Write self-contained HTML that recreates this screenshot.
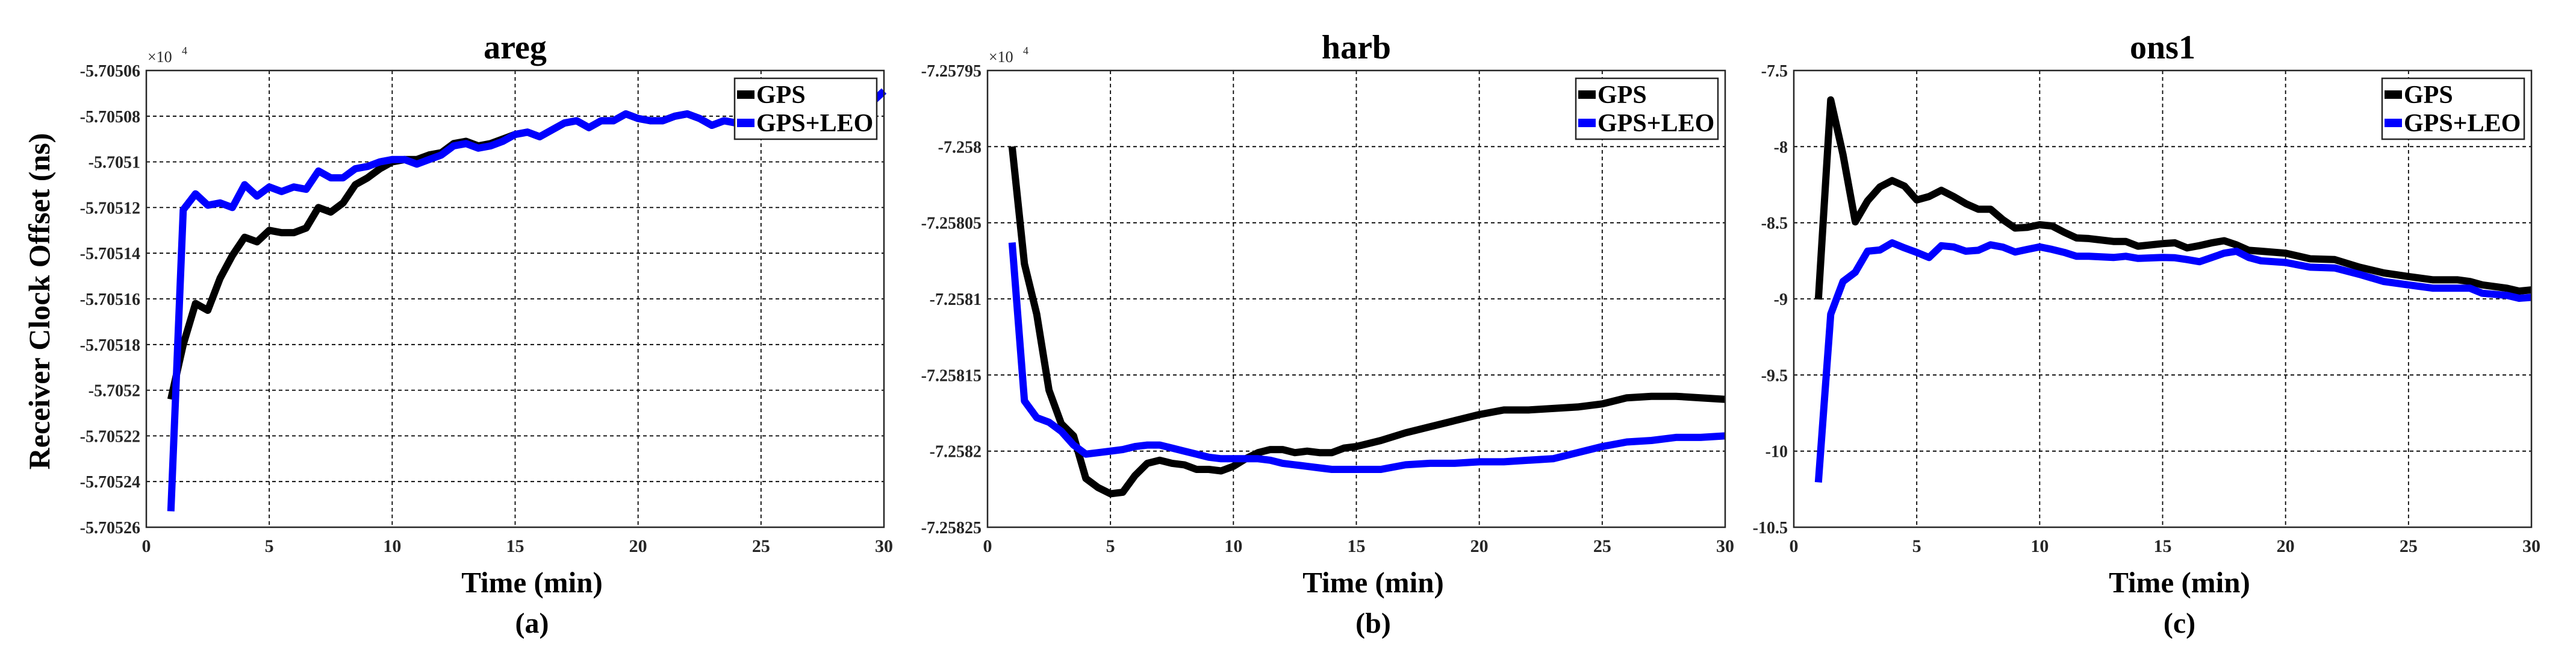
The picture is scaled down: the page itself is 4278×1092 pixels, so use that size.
<!DOCTYPE html>
<html><head><meta charset="utf-8">
<style>
html,body{margin:0;padding:0;background:#fff;}
svg{display:block;font-family:"Liberation Serif",serif;}
</style></head>
<body>
<svg id="fig" width="4278" height="1092" viewBox="0 0 4278 1092" xmlns="http://www.w3.org/2000/svg"></svg>
<script>
// ---- data ----
const timesA = [1,1.5,2,2.5,3,3.5,4,4.5,5,5.5,6,6.5,7,7.5,8,8.5,9,9.5,10,10.5,11,11.5,12,12.5,13,13.5,14,14.5,15,15.5,16,16.5,17,17.5,18,18.5,19,19.5,20,20.5,21,21.5,22,22.5,23,23.5,24,24.5,25,26,27,28,29,29.5,30];
const gpsA = [-5.705204,-5.70518,-5.705162,-5.705165,-5.705151,-5.705141,-5.705133,-5.705135,-5.70513,-5.705131,-5.705131,-5.705129,-5.70512,-5.705122,-5.705118,-5.70511,-5.705107,-5.705103,-5.7051,-5.705099,-5.705099,-5.705097,-5.705096,-5.705092,-5.705091,-5.705093,-5.705092,-5.70509,-5.705088,-5.705087,-5.705089,-5.705086,-5.705083,-5.705082,-5.705085,-5.705082,-5.705082,-5.705079,-5.705081,-5.705082,-5.705082,-5.70508,-5.705079,-5.705081,-5.705084,-5.705082,-5.705083,-5.70508,-5.70508,-5.705081,-5.70508,-5.705079,-5.705078,-5.705074,-5.705069];
const leoA = [-5.705253,-5.705121,-5.705114,-5.705119,-5.705118,-5.70512,-5.70511,-5.705115,-5.705111,-5.705113,-5.705111,-5.705112,-5.705104,-5.705107,-5.705107,-5.705103,-5.705102,-5.7051,-5.705099,-5.705099,-5.705101,-5.705099,-5.705097,-5.705093,-5.705092,-5.705094,-5.705093,-5.705091,-5.705088,-5.705087,-5.705089,-5.705086,-5.705083,-5.705082,-5.705085,-5.705082,-5.705082,-5.705079,-5.705081,-5.705082,-5.705082,-5.70508,-5.705079,-5.705081,-5.705084,-5.705082,-5.705083,-5.70508,-5.70508,-5.705081,-5.70508,-5.705079,-5.705078,-5.705074,-5.705069];
const timesB = [1,1.5,2,2.5,3,3.5,4,4.5,5,5.5,6,6.5,7,7.5,8,8.5,9,9.5,10,10.5,11,11.5,12,12.5,13,13.5,14,14.5,15,16,17,18,19,20,21,22,23,24,25,26,27,28,29,30];
const gpsB = [-7.258,-7.258077,-7.25811,-7.25816,-7.258182,-7.25819,-7.258218,-7.258224,-7.258228,-7.258227,-7.258216,-7.258208,-7.258206,-7.258208,-7.258209,-7.258212,-7.258212,-7.258213,-7.25821,-7.258205,-7.258201,-7.258199,-7.258199,-7.258201,-7.2582,-7.258201,-7.258201,-7.258198,-7.258197,-7.258193,-7.258188,-7.258184,-7.25818,-7.258176,-7.258173,-7.258173,-7.258172,-7.258171,-7.258169,-7.258165,-7.258164,-7.258164,-7.258165,-7.258166];
const leoB = [-7.258063,-7.258167,-7.258178,-7.258181,-7.258187,-7.258196,-7.258202,-7.258201,-7.2582,-7.258199,-7.258197,-7.258196,-7.258196,-7.258198,-7.2582,-7.258202,-7.258204,-7.258205,-7.258205,-7.258205,-7.258205,-7.258206,-7.258208,-7.258209,-7.25821,-7.258211,-7.258212,-7.258212,-7.258212,-7.258212,-7.258209,-7.258208,-7.258208,-7.258207,-7.258207,-7.258206,-7.258205,-7.258201,-7.258197,-7.258194,-7.258193,-7.258191,-7.258191,-7.25819];
const timesC = [1,1.5,2,2.5,3,3.5,4,4.5,5,5.5,6,6.5,7,7.5,8,8.5,9,9.5,10,10.5,11,11.5,12,13,13.5,14,15,15.5,16,16.5,17,17.5,18,18.5,19,20,21,22,23,24,25,26,27,27.5,28,29,29.5,30];
const gpsC = [-9.004,-7.693,-8.052,-8.494,-8.356,-8.265,-8.223,-8.259,-8.35,-8.328,-8.287,-8.328,-8.375,-8.411,-8.411,-8.48,-8.535,-8.53,-8.513,-8.521,-8.563,-8.6,-8.604,-8.623,-8.623,-8.654,-8.637,-8.632,-8.665,-8.65,-8.632,-8.618,-8.645,-8.681,-8.687,-8.7,-8.737,-8.742,-8.792,-8.83,-8.853,-8.875,-8.875,-8.886,-8.908,-8.93,-8.949,-8.941];
const leoC = [-10.205,-9.101,-8.886,-8.825,-8.687,-8.679,-8.632,-8.665,-8.695,-8.728,-8.651,-8.659,-8.687,-8.681,-8.645,-8.66,-8.692,-8.675,-8.659,-8.675,-8.695,-8.72,-8.72,-8.728,-8.72,-8.734,-8.728,-8.73,-8.742,-8.756,-8.728,-8.7,-8.687,-8.728,-8.75,-8.761,-8.792,-8.797,-8.839,-8.886,-8.908,-8.93,-8.93,-8.93,-8.963,-8.977,-8.996,-8.99];
const xTicks = [0,5,10,15,20,25,30];
const yTicksA = ["-5.70526","-5.70524","-5.70522","-5.7052","-5.70518","-5.70516","-5.70514","-5.70512","-5.7051","-5.70508","-5.70506"];
const yTicksB = ["-7.25825","-7.2582","-7.25815","-7.2581","-7.25805","-7.258","-7.25795"];
const yTicksC = ["-10.5","-10","-9.5","-9","-8.5","-8","-7.5"];
const titles = ["areg","harb","ons1"];
const subLabels = ["(a)","(b)","(c)"];

const NS = "http://www.w3.org/2000/svg";
const svg = document.getElementById("fig");
function mk(tag, attrs, parent){
  const e = document.createElementNS(NS, tag);
  for (const k in attrs) e.setAttribute(k, attrs[k]);
  (parent||svg).appendChild(e);
  return e;
}

const panels = [
  {left:243, times:timesA, gps:gpsA, leo:leoA, ticks:yTicksA, mult:true},
  {left:1640, times:timesB, gps:gpsB, leo:leoB, ticks:yTicksB, mult:true},
  {left:2979, times:timesC, gps:gpsC, leo:leoC, ticks:yTicksC, mult:false}
];
const TOP = 117, BOT = 875, W = 1225;

panels.forEach((p, i) => {
  const g = mk("g", {});
  
  
  const ymin = parseFloat(p.ticks[0]), ymax = parseFloat(p.ticks[p.ticks.length-1]);
  const xs = t => p.left + (t / 30) * W;
  const ys = v => BOT - (v - ymin) / (ymax - ymin) * (BOT - TOP);
  const clipId = "clip" + i;
  const cp = mk("clipPath", {id: clipId}, g);
  mk("rect", {x: p.left, y: TOP - 40, width: W + 12, height: BOT - TOP + 40}, cp);

  xTicks.forEach(t => {
    if (t > 0 && t < 30) {
      const l = mk("line", {x1: xs(t), x2: xs(t), y1: TOP, y2: BOT, stroke: "#000", "stroke-width": 1.8, "stroke-dasharray": "6,5"}, g);
      
      
    }
    const tx = mk("text", {x: xs(t), y: 916, "text-anchor": "middle", "font-size": 30, "font-weight": "bold", fill: "#262626"}, g);
    tx.textContent = t;
    
    
  });
  p.ticks.forEach((lab, k) => {
    const v = parseFloat(lab);
    const y = ys(v);
    if (k > 0 && k < p.ticks.length - 1) {
      const l = mk("line", {x1: p.left, x2: p.left + W, y1: y, y2: y, stroke: "#000", "stroke-width": 1.8, "stroke-dasharray": "6,5"}, g);
      
      
    }
    const tx = mk("text", {x: p.left - 10, y: y + 10, "text-anchor": "end", "font-size": 28, "font-weight": "bold", fill: "#262626"}, g);
    tx.textContent = lab;
    
    
  });

  const mkPath = (arr, color, name) => {
    let d = "";
    p.times.forEach((t, k) => { d += (k ? "L" : "M") + xs(t).toFixed(1) + "," + ys(arr[k]).toFixed(1); });
    const path = mk("path", {d: d, fill: "none", stroke: color, "stroke-width": 12, "stroke-linejoin": "round", "clip-path": "url(#" + clipId + ")"}, g);
    
    
  };
  mkPath(p.gps, "#000", "gps-line");
  mkPath(p.leo, "#0000ff", "gps-leo-line");

  const box = mk("rect", {x: p.left, y: TOP, width: W, height: BOT - TOP, fill: "none", stroke: "#262626", "stroke-width": 2.5}, g);
  
  

  const ti = mk("text", {x: p.left + W / 2, y: 97, "text-anchor": "middle", "font-size": 56, "font-weight": "bold"}, g);
  ti.textContent = titles[i];
  
  

  const xl = mk("text", {x: p.left + W / 2 + 28, y: 983, "text-anchor": "middle", "font-size": 49, "font-weight": "bold"}, g);
  xl.textContent = "Time (min)";
  
  

  const sl = mk("text", {x: p.left + W / 2 + 28, y: 1050, "text-anchor": "middle", "font-size": 48, "font-weight": "bold"}, g);
  sl.textContent = subLabels[i];
  
  

  if (p.mult) {
    const m = mk("text", {x: p.left + 2, y: 103, "font-size": 26, fill: "#262626"}, g);
    m.textContent = "×10";
    
    
    const s = mk("text", {x: p.left + 59, y: 90, "font-size": 18, fill: "#262626"}, g);
    s.textContent = "4";
    
    
  }

  const lg = mk("g", {}, g);
  
  
  const lx = p.left + W - 248;
  mk("rect", {x: lx, y: 130, width: 236, height: 101, fill: "#fff", stroke: "#262626", "stroke-width": 2.5}, lg);
  const entries = [["GPS", "#000", 157], ["GPS+LEO", "#0000ff", 204]];
  entries.forEach(en => {
    const e = mk("g", {}, lg);
    
    
    mk("rect", {x: lx + 4, y: en[2] - 7, width: 29, height: 14, fill: en[1]}, e);
    const t = mk("text", {x: lx + 36, y: en[2] + 14, "font-size": 42, "font-weight": "bold"}, e);
    t.textContent = en[0];
  });
});

const yl = mk("text", {x: 0, y: 0, "text-anchor": "middle", "font-size": 50, "font-weight": "bold", transform: "translate(82,500) rotate(-90)"});
yl.textContent = "Receiver Clock Offset (ns)";


</script>
</body></html>
